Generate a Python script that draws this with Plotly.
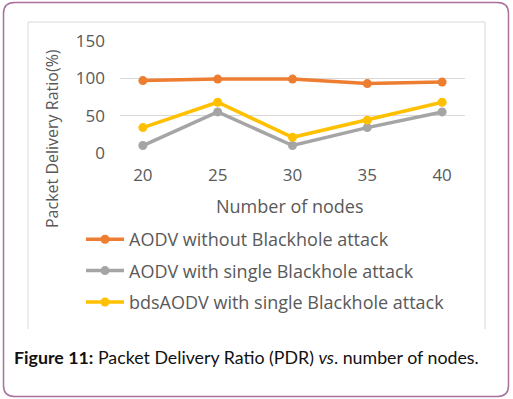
import plotly.graph_objects as go

nodes = ["20", "25", "30", "35", "40"]
aodv_no_attack = [97, 99, 99, 93, 95]
aodv_single = [10, 55, 10, 34, 55]
bdsaodv_single = [34, 68, 21, 44, 68]
series_names = ["AODV without Blackhole attack",
                "AODV with single Blackhole attack",
                "bdsAODV with single Blackhole attack"]
series_colors = ["#ED7D31", "#A5A5A5", "#FFC000"]
y_ticks = [0, 50, 100, 150]

W, H = 513, 399
L, R, T, B = 120, 465, 41, 153  # plot area pixel box


def px(x):
    return (x - L) / (R - L)


def py(y):
    return (B - y) / (B - T)


fig = go.Figure()
for i, (name, vals, col) in enumerate(zip(series_names,
                                          [aodv_no_attack, aodv_single, bdsaodv_single],
                                          series_colors)):
    fig.add_trace(go.Scatter(
        x=nodes, y=vals, name=name, mode="lines+markers",
        line=dict(color=col, width=3.5),
        marker=dict(color=col, size=9),
        legendgroup=f"g{i}",
    ))

font_fam = "Open Sans, DejaVu Sans, sans-serif"
gray = "#595959"

fig.update_layout(
    width=W, height=H,
    margin=dict(l=L, r=W - R, t=T, b=H - B, pad=0),
    paper_bgcolor="white", plot_bgcolor="white",
    showlegend=True,
    legend=dict(
        x=px(81), y=py(221), xanchor="left", yanchor="top",
        font=dict(family=font_fam, size=18, color=gray),
        tracegroupgap=5, itemwidth=38, bgcolor="rgba(0,0,0,0)",
    ),
    xaxis=dict(
        type="category", showgrid=False, showline=False, zeroline=False,
        ticks="", tickfont=dict(family=font_fam, size=17, color=gray),
        ticklabelstandoff=10,
    ),
    yaxis=dict(
        range=[0, 150], tickvals=y_ticks, showgrid=True, gridcolor="#D9D9D9",
        gridwidth=1, zeroline=False, showline=False, ticks="",
        tickfont=dict(family=font_fam, size=17, color=gray),
        ticklabelstandoff=14,
    ),
    font=dict(family=font_fam),
)

# inner chart frame (left, top, right edges)
frame_col = "#D9D9D9"
fig.add_shape(type="path", xref="paper", yref="paper",
              path=f"M {px(28)} {py(329)} L {px(28)} {py(22)} L {px(485)} {py(22)} L {px(485)} {py(329)}",
              line=dict(color=frame_col, width=1))

# outer rounded border
x0, y0, x1, y1, r = 3.5, 2.5, 508.5, 396.5, 11
path = (f"M {px(x0 + r)} {py(y0)} L {px(x1 - r)} {py(y0)} "
        f"Q {px(x1)} {py(y0)} {px(x1)} {py(y0 + r)} "
        f"L {px(x1)} {py(y1 - r)} Q {px(x1)} {py(y1)} {px(x1 - r)} {py(y1)} "
        f"L {px(x0 + r)} {py(y1)} Q {px(x0)} {py(y1)} {px(x0)} {py(y1 - r)} "
        f"L {px(x0)} {py(y0 + r)} Q {px(x0)} {py(y0)} {px(x0 + r)} {py(y0)} Z")
fig.add_shape(type="path", xref="paper", yref="paper", path=path,
              line=dict(color="#A8709A", width=1.5), layer="below")

# axis titles
fig.add_annotation(text="Packet Delivery Ratio(%)", xref="paper", yref="paper",
                   x=px(52), y=py(139), textangle=-90, showarrow=False,
                   font=dict(family=font_fam, size=16, color=gray),
                   xanchor="center", yanchor="middle")
fig.add_annotation(text="Number of nodes", xref="paper", yref="paper",
                   x=px(290), y=py(206), showarrow=False,
                   font=dict(family=font_fam, size=18, color=gray),
                   xanchor="center", yanchor="middle")

# caption
fig.add_annotation(text="<b>Figure 11:</b> Packet Delivery Ratio (PDR) <i>vs</i>. number of nodes.",
                   xref="paper", yref="paper", x=px(12), y=py(357), showarrow=False,
                   font=dict(family="Lato, Open Sans, sans-serif", size=17.8, color="#111111"),
                   xanchor="left", yanchor="middle")

fig.write_html("out.html", config={"displayModeBar": False},
               post_script="document.body.style.margin='0px';")
